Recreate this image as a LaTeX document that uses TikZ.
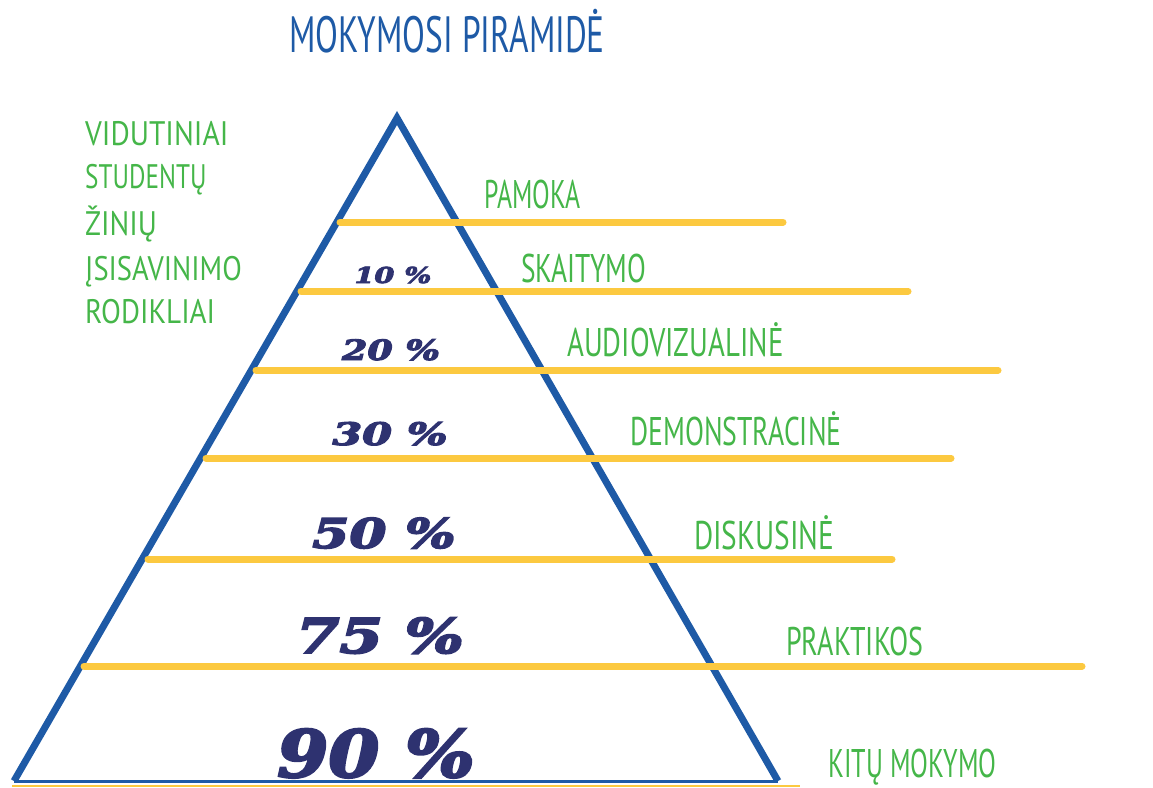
\documentclass[tikz,border=0pt]{standalone}
\usepackage{fontspec}
\setmainfont{PT Sans}
\newfontfamily\labfont[FakeStretch=0.7]{PT Sans}
\newfontfamily\pctfont[BoldItalicFeatures={FakeBold=3.5}]{DejaVu Serif}
\definecolor{pyrblue}{HTML}{1E5AA6}
\definecolor{lblgreen}{HTML}{45B649}
\definecolor{lineyellow}{HTML}{FCC940}
\definecolor{pctnavy}{HTML}{2E3270}
\newcommand{\sx}[2]{\scalebox{#1}[1]{#2}}
\begin{document}
\begin{tikzpicture}[x=1pt,y=-1pt,
  lbl/.style={anchor=base west,inner sep=0pt,text=lblgreen,font=\labfont\fontsize{40}{40}\selectfont},
  side/.style={anchor=base west,inner sep=0pt,text=lblgreen,font=\labfont\fontsize{34}{34}\selectfont},
  pct/.style={anchor=base,inner sep=0pt,text=pctnavy},
  level/.style={draw=lineyellow,line width=7pt,line cap=round},
  pyr/.style={draw=pyrblue,line width=7pt,line join=miter}]
\useasboundingbox (0,0) rectangle (1153,787);
% triangle corners
\coordinate (apex) at (397,118);
\coordinate (bl) at (14,781);
\coordinate (br) at (778,781);
% title
\node[anchor=base,inner sep=0pt,text=pyrblue,font=\labfont\fontsize{51}{51}\selectfont] (title) at (447,52) {\sx{0.935}{MOKYMOSI PIRAMIDĖ}};
% side text
\node[side] (s1) at (85,145) {\sx{1.24}{VIDUTINIAI}};
\node[side] (s2) at (85,188) {\sx{1.06}{STUDENTŲ}};
\node[side] (s3) at (85,235) {\sx{1.23}{ŽINIŲ}};
\node[side] (s4) at (85,280) {\sx{1.2}{ĮSISAVINIMO}};
\node[side] (s5) at (85,323) {\sx{1.22}{RODIKLIAI}};
% base yellow
\coordinate (y0a) at (12,786);
\coordinate (y0b) at (800,786);
\draw[draw=lineyellow,line width=2pt] (y0a) -- (y0b);
% pyramid
\draw[pyr] (bl) -- (apex) -- (br);
\draw[draw=pyrblue,line width=3pt] (bl) -- (br);
% levels
\coordinate (a1) at (340,222); \coordinate (b1) at (783,222);
\coordinate (a2) at (301,291); \coordinate (b2) at (908,291);
\coordinate (a3) at (256,370); \coordinate (b3) at (998,370);
\coordinate (a4) at (206,458); \coordinate (b4) at (951,458);
\coordinate (a5) at (148,559); \coordinate (b5) at (892,559);
\coordinate (a6) at (84,666); \coordinate (b6) at (1082,666);
\draw[level] (a1) -- (b1);
\draw[level] (a2) -- (b2);
\draw[level] (a3) -- (b3);
\draw[level] (a4) -- (b4);
\draw[level] (a5) -- (b5);
\draw[level] (a6) -- (b6);
% method labels
\node[lbl] (l1) at (484,208) {\sx{0.92}{PAMOKA}};
\node[lbl] (l2) at (521,282) {\sx{0.98}{SKAITYMO}};
\node[lbl] (l3) at (567,356) {\sx{1.03}{AUDIOVIZUALINĖ}};
\node[lbl] (l4) at (630,445) {\sx{0.99}{DEMONSTRACINĖ}};
\node[lbl] (l5) at (694,549) {\sx{1.05}{DISKUSINĖ}};
\node[lbl] (l6) at (786,655) {PRAKTIKOS};
\node[lbl] (l7) at (828,777) {\sx{0.93}{KITŲ MOKYMO}};
% percentages
\node[pct,font=\pctfont\bfseries\itshape\fontsize{22}{22}\selectfont] (p1) at (393,283) {\sx{1.3}{10 \%}};
\node[pct,font=\pctfont\bfseries\itshape\fontsize{28}{28}\selectfont] (p2) at (391,360) {\sx{1.3}{20 \%}};
\node[pct,font=\pctfont\bfseries\itshape\fontsize{31}{31}\selectfont] (p3) at (390,445) {\sx{1.38}{30 \%}};
\node[pct,font=\pctfont\bfseries\itshape\fontsize{41}{41}\selectfont] (p4) at (384,548) {\sx{1.3}{50 \%}};
\node[pct,font=\pctfont\bfseries\itshape\fontsize{48}{48}\selectfont] (p5) at (380,653) {\sx{1.3}{75 \%}};
\node[pct,text depth=0pt,font=\pctfont\bfseries\itshape\fontsize{65}{65}\selectfont] (p6) at (376,777) {\sx{1.13}{90 \%}};
\end{tikzpicture}
\end{document}
